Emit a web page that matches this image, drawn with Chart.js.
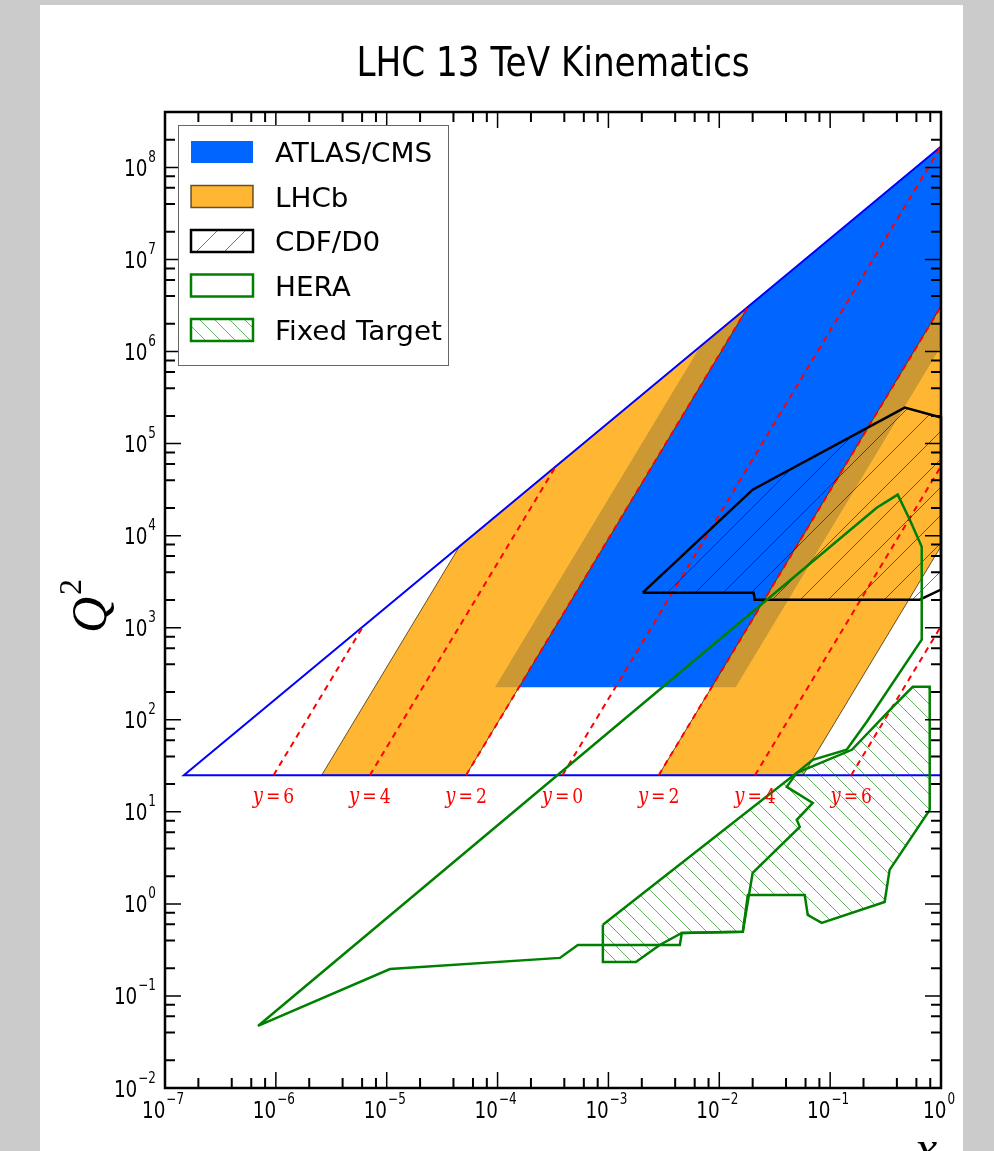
<!DOCTYPE html>
<html><head><meta charset="utf-8">
<script src="https://cdn.jsdelivr.net/npm/chart.js@4.4.1/dist/chart.umd.min.js"></script>
<style>
html,body{margin:0;padding:0;background:#cbcbcb;width:994px;height:1151px;overflow:hidden}
#panel{position:absolute;left:40px;top:5px;width:923px;height:1146px;background:#fff}
#c{position:absolute;left:0;top:0}
</style></head><body>
<div id="panel"></div>
<canvas id="c" width="994" height="1151"></canvas>
<script>
// ---------------- data (x, Q^2) ----------------
const chartTitle = 'LHC 13 TeV Kinematics';
const legendLabels = ['ATLAS/CMS', 'LHCb', 'CDF/D0', 'HERA', 'Fixed Target'];
const xTickExps = [-7, -6, -5, -4, -3, -2, -1, 0];
const yTickExps = [-2, -1, 0, 1, 2, 3, 4, 5, 6, 7, 8];
const minorMult = [2, 4, 6, 8];

const atlasCms = [[9.47e-5, 225], [6.74e-3, 1.14e6], [1, 1.69e8], [1, 1.14e6], [1.406e-2, 225]];
const lhcbBackward = [[2.59e-6, 25], [4.54e-5, 7670], [1.83e-2, 3.1e6], [5.2e-5, 25]];
const lhcbForward = [[2.84e-3, 25], [1, 3.1e6], [1, 7670], [5.71e-2, 25]];
const kinLimit = [[1, 25], [1.48e-7, 25], [1, 1.69e8]];

const rapidityLabels = ['y=6', 'y=4', 'y=2', 'y=0', 'y=2', 'y=4', 'y=6'];
const rapidityLowX = [9.53e-7, 7.05e-6, 5.2e-5, 3.85e-4, 2.84e-3, 2.1e-2, 0.155];
const rapidityLowQ2 = 25;
const rapidityTopX = [6.14e-6, 3.35e-4, 1.83e-2, 1, 1, 1, 1];
const rapidityTopQ2 = [1038, 5.67e4, 3.1e6, 1.69e8, 3.1e6, 5.67e4, 1038];

const cdfD0 = [[2.04e-3, 2400], [0.02, 31600], [0.471, 2.46e5], [1, 1.92e5], [1, 2600], [0.643, 2014], [0.0209, 2014], [0.0204, 2400]];

const hera = [[6.9e-7, 0.0472], [0.263, 2.01e4], [0.407, 2.79e4], [0.523, 1.49e4], [0.67, 7590], [0.67, 741],
  [0.214, 95.1], [0.141, 47.2], [0.0697, 36.7], [0.05, 26.5], [0.0406, 18.7], [0.0697, 12.5], [0.05, 8.19],
  [0.0532, 6.87], [0.02, 2.17], [0.0163, 0.497], [4.59e-3, 0.484], [4.41e-3, 0.358], [5.3e-4, 0.358],
  [3.65e-4, 0.259], [1.07e-5, 0.196]];

const fixedTarget = [[8.91e-4, 0.592], [0.05, 26.5], [0.157, 47.2], [0.383, 145], [0.556, 228], [0.791, 228],
  [0.791, 10.5], [0.344, 2.34], [0.31, 1.05], [0.0839, 0.621], [0.0628, 0.758], [0.059, 1.25], [0.0181, 1.25],
  [0.0163, 0.497], [4.59e-3, 0.484], [2.9e-3, 0.358], [1.77e-3, 0.234], [8.91e-4, 0.234]];

// ---------------- helpers ----------------
const BLUE = 'rgb(0,102,255)';
const ORANGE = 'rgba(255,165,0,0.8)';
const GREEN = '#008000';
const pts = a => a.map(p => ({x: p[0], y: p[1]}));
const closed = a => pts(a.concat([a[0]]));

function hatch(period, color, lw, dir) {
  const c = document.createElement('canvas');
  c.width = c.height = period;
  const g = c.getContext('2d');
  g.strokeStyle = color; g.lineWidth = lw;
  g.beginPath();
  const P = period;
  if (dir === '/') {
    g.moveTo(-P, P); g.lineTo(P, -P);
    g.moveTo(0, P); g.lineTo(P, 0);
    g.moveTo(0, 2 * P); g.lineTo(2 * P, 0);
  } else {
    g.moveTo(0, 0); g.lineTo(P, P);
    g.moveTo(-P, 0); g.lineTo(P, 2 * P);
    g.moveTo(0, -P); g.lineTo(2 * P, P);
  }
  g.stroke();
  return g.createPattern(c, 'repeat');
}
const cdfHatch = hatch(28, 'rgba(0,0,0,0.55)', 1, '/');
const ftHatch = hatch(15, 'rgba(0,128,0,0.6)', 1, '\\');

function txt(ctx, s, x, y, font, color, align, sx) {
  ctx.save();
  ctx.translate(x, y);
  ctx.scale(sx, 1);
  ctx.font = font;
  ctx.fillStyle = color;
  ctx.textAlign = align;
  ctx.textBaseline = 'alphabetic';
  ctx.fillText(s, 0, 0);
  ctx.restore();
}
function measure(ctx, s, font, sx) { ctx.save(); ctx.font = font; const w = ctx.measureText(s).width * sx; ctx.restore(); return w; }

const SX = 0.8;
const BASEF = '23px "DejaVu Sans", sans-serif';
const SUPF = '15px "DejaVu Sans", sans-serif';
function powLabel(ctx, exp, x, baseline, align) {
  const e = exp < 0 ? '\u2212' + (-exp) : String(exp);
  const wb = measure(ctx, '10', BASEF, SX);
  const we = measure(ctx, e, SUPF, SX);
  const tot = wb + 1 + we;
  let x0 = align === 'center' ? x - tot / 2 : x - tot;
  txt(ctx, '10', x0, baseline, BASEF, '#000', 'left', SX);
  txt(ctx, e, x0 + wb + 1, baseline - 14, SUPF, '#000', 'left', SX);
}

// ---------------- datasets ----------------
const datasets = [];
datasets.push({data: closed(atlasCms), fill: 'shape', backgroundColor: BLUE, borderWidth: 0, borderColor: BLUE, order: 20});
datasets.push({data: closed(lhcbBackward), fill: 'shape', backgroundColor: ORANGE, borderColor: 'rgba(50,35,0,0.75)', borderWidth: 1, order: 19});
datasets.push({data: closed(lhcbForward), fill: 'shape', backgroundColor: ORANGE, borderColor: 'rgba(50,35,0,0.75)', borderWidth: 1, order: 19});
datasets.push({data: pts(kinLimit), fill: false, borderColor: '#0000ff', borderWidth: 2, order: 18});
for (let i = 0; i < rapidityLabels.length; i++) {
  datasets.push({data: [{x: rapidityLowX[i], y: rapidityLowQ2}, {x: rapidityTopX[i], y: rapidityTopQ2[i]}],
    fill: false, borderColor: '#ff0000', borderWidth: 2, borderDash: [6, 5], order: 17});
}
datasets.push({data: closed(cdfD0), fill: 'shape', backgroundColor: cdfHatch, borderColor: '#000', borderWidth: 2.5, order: 16});
datasets.push({data: closed(hera), fill: false, borderColor: GREEN, borderWidth: 2.5, order: 15});
datasets.push({data: closed(fixedTarget), fill: 'shape', backgroundColor: ftHatch, borderColor: GREEN, borderWidth: 2.5, order: 14});
datasets.forEach(d => { d.showLine = true; d.pointRadius = 0; d.tension = 0; d.borderJoinStyle = 'miter'; d.clip = 2; });

// ---------------- decorations plugin ----------------
const deco = {
  id: 'deco',
  afterDatasetsDraw(chart) {
    const ctx = chart.ctx;
    const xs = chart.scales.x, ys = chart.scales.y;
    const {left, right, top, bottom} = chart.chartArea;
    ctx.save();
    // ticks
    ctx.strokeStyle = '#000';
    const drawX = (v, len, lw) => {
      const p = xs.getPixelForValue(v);
      ctx.lineWidth = lw;
      ctx.beginPath(); ctx.moveTo(p, bottom); ctx.lineTo(p, bottom - len);
      ctx.moveTo(p, top); ctx.lineTo(p, top + len); ctx.stroke();
    };
    const drawY = (v, len, lw) => {
      const p = ys.getPixelForValue(v);
      ctx.lineWidth = lw;
      ctx.beginPath(); ctx.moveTo(left, p); ctx.lineTo(left + len, p);
      ctx.moveTo(right, p); ctx.lineTo(right - len, p); ctx.stroke();
    };
    xTickExps.forEach(e => {
      drawX(Math.pow(10, e), 16, 1.5);
      if (e < 0) minorMult.forEach(m => drawX(m * Math.pow(10, e), 10, 2));
    });
    yTickExps.forEach(e => {
      drawY(Math.pow(10, e), 16, 1.5);
      minorMult.forEach(m => { const v = m * Math.pow(10, e); if (v < ys.max * 0.999) drawY(v, 10, 2); });
    });
    // frame
    ctx.lineWidth = 2.5;
    ctx.strokeRect(left, top, right - left, bottom - top);
    // tick labels
    xTickExps.forEach(e => powLabel(ctx, e, xs.getPixelForValue(Math.pow(10, e)) - 2, bottom + 30, 'center'));
    yTickExps.forEach(e => powLabel(ctx, e, left - 9, ys.getPixelForValue(Math.pow(10, e)) + 8.5, 'right'));
    // rapidity labels
    for (let i = 0; i < rapidityLabels.length; i++) {
      const cx = xs.getPixelForValue(rapidityLowX[i]);
      const base = ys.getPixelForValue(rapidityLowQ2) + 28;
      const parts = rapidityLabels[i].split('=');
      const f1 = 'italic 22px "DejaVu Serif", serif', f2 = '21px "DejaVu Serif", serif';
      const s = 0.82;
      const w1 = measure(ctx, parts[0], f1, s), w2 = measure(ctx, '=', f2, s), w3 = measure(ctx, parts[1], f2, s);
      const gap = 3;
      const tot = w1 + gap + w2 + gap + w3;
      let x0 = cx - tot / 2;
      txt(ctx, parts[0], x0, base, f1, '#ff0000', 'left', s);
      txt(ctx, '=', x0 + w1 + gap, base, f2, '#ff0000', 'left', s);
      txt(ctx, parts[1], x0 + w1 + gap + w2 + gap, base, f2, '#ff0000', 'left', s);
    }
    // legend
    const lx = 178, ly = 125, lw = 270, lh = 240;
    ctx.fillStyle = '#fff';
    ctx.fillRect(lx, ly, lw, lh);
    ctx.lineWidth = 1;
    ctx.strokeStyle = '#666';
    ctx.strokeRect(lx + 0.5, ly + 0.5, lw, lh);
    const styles = [
      {fill: BLUE, stroke: null},
      {fill: ORANGE, stroke: 'rgba(50,35,0,0.75)', w: 1.5},
      {fill: cdfHatch, stroke: '#000', w: 2.5},
      {fill: null, stroke: GREEN, w: 2.5},
      {fill: ftHatch, stroke: GREEN, w: 2.5}
    ];
    legendLabels.forEach((lab, i) => {
      const py = 141 + i * 44.5;
      const s = styles[i];
      if (s.fill) { ctx.fillStyle = s.fill; ctx.fillRect(191, py, 62, 22); }
      if (s.stroke) { ctx.strokeStyle = s.stroke; ctx.lineWidth = s.w; ctx.strokeRect(191, py, 62, 22); }
      txt(ctx, lab, 275, py + 21, '27px "DejaVu Sans", sans-serif', '#000', 'left', 1.03);
    });
    ctx.restore();
  },
  afterDraw(chart) {
    const ctx = chart.ctx;
    // title
    txt(ctx, chartTitle, 553, 76, '41px "DejaVu Sans", sans-serif', '#000', 'center', 0.835);
    // y axis label Q^2
    ctx.save();
    ctx.translate(106, 633);
    ctx.rotate(-Math.PI / 2);
    ctx.fillStyle = '#000';
    ctx.font = 'italic 50px "Liberation Serif", serif';
    ctx.textAlign = 'left';
    ctx.fillText('Q', 0, 0);
    const wq = ctx.measureText('Q').width;
    ctx.font = '32px "Liberation Serif", serif';
    ctx.fillText('2', wq + 2, -25);
    ctx.restore();
    // x axis label
    txt(ctx, 'x', 926, 1165, 'italic 50px "Liberation Serif", serif', '#000', 'center', 1);
  }
};

new Chart(document.getElementById('c'), {
  type: 'scatter',
  data: {datasets},
  options: {
    responsive: false,
    animation: false,
    devicePixelRatio: 1,
    events: [],
    layout: {padding: {left: 165, right: 53, top: 112, bottom: 63}},
    scales: {
      x: {type: 'logarithmic', min: 1e-7, max: 1, display: false, bounds: 'data'},
      y: {type: 'logarithmic', min: 1e-2, max: 4e8, display: false, bounds: 'data'}
    },
    plugins: {legend: {display: false}, tooltip: {enabled: false}, title: {display: false}}
  },
  plugins: [deco]
});
</script></body></html>
